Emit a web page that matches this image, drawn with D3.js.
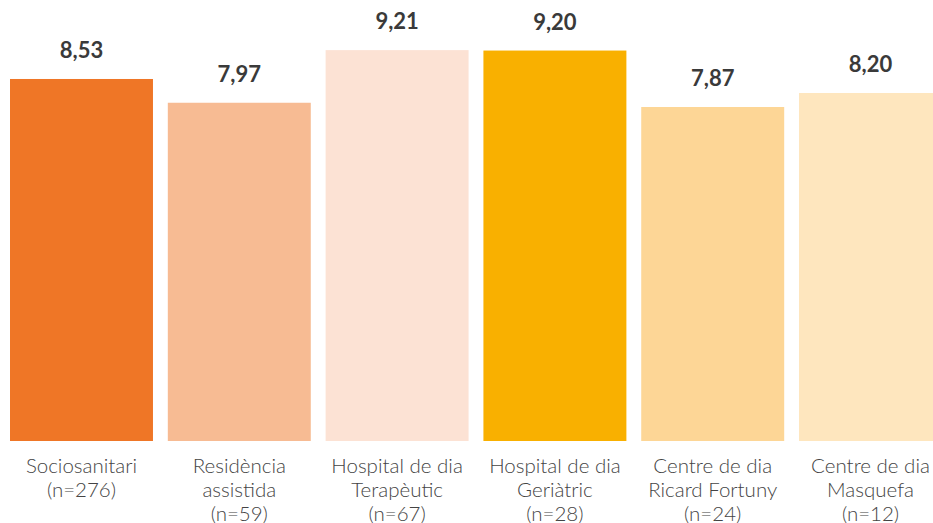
<!DOCTYPE html>
<html>
<head>
<meta charset="utf-8">
<script src="https://cdn.jsdelivr.net/npm/d3@7"></script>
<style>
  html, body { margin: 0; padding: 0; background: #fff; overflow: hidden; }
  svg { display: block; }
</style>
</head>
<body>
<svg id="chart" width="933" height="523"></svg>
<script>
const categories = [
  ["Sociosanitari", "(n=276)"],
  ["Residència", "assistida", "(n=59)"],
  ["Hospital de dia", "Terapèutic", "(n=67)"],
  ["Hospital de dia", "Geriàtric", "(n=28)"],
  ["Centre de dia", "Ricard Fortuny", "(n=24)"],
  ["Centre de dia", "Masquefa", "(n=12)"]
];
const values = [8.53, 7.97, 9.21, 9.20, 7.87, 8.20];
const colors = ["#EF7626", "#F7BB93", "#FCE2D4", "#F9B000", "#FDD696", "#FEE6BE"];

const svg = d3.select("#chart");
const baseline = 441;
const x = d3.scaleBand().domain(d3.range(values.length)).range([10, 942]).paddingInner(0.094).paddingOuter(0);
const y = d3.scaleLinear().domain([0, 10]).range([baseline, baseline - 424.4]);

svg.selectAll("rect.bar").data(values).join("rect")
  .attr("class", "bar")
  .attr("x", (d, i) => x(i))
  .attr("width", x.bandwidth())
  .attr("y", d => y(d))
  .attr("height", d => baseline - y(d))
  .attr("fill", (d, i) => colors[i]);

svg.selectAll("text.val").data(values).join("text")
  .attr("class", "val")
  .attr("x", (d, i) => x(i) + x.bandwidth() / 2)
  .attr("y", d => y(d) - 21)
  .attr("text-anchor", "middle")
  .attr("font-family", "Lato, 'Open Sans', sans-serif")
  .attr("font-weight", 700)
  .attr("font-size", 22)
  .attr("fill", "#3a3a3a")
  .text(d => d.toFixed(2).replace(".", ","));

const labels = svg.selectAll("text.cat").data(categories).join("text")
  .attr("class", "cat")
  .attr("x", (d, i) => x(i) + x.bandwidth() / 2)
  .attr("y", 473)
  .attr("text-anchor", "middle")
  .attr("font-family", "Lato, 'Open Sans', sans-serif")
  .attr("font-weight", 300)
  .attr("font-size", 20.5)
  .attr("fill", "#444");
labels.selectAll("tspan").data(d => d).join("tspan")
  .attr("x", function() { return d3.select(this.parentNode).attr("x"); })
  .attr("dy", (d, j) => j === 0 ? 0 : 23.8)
  .text(d => d);
</script>
</body>
</html>
